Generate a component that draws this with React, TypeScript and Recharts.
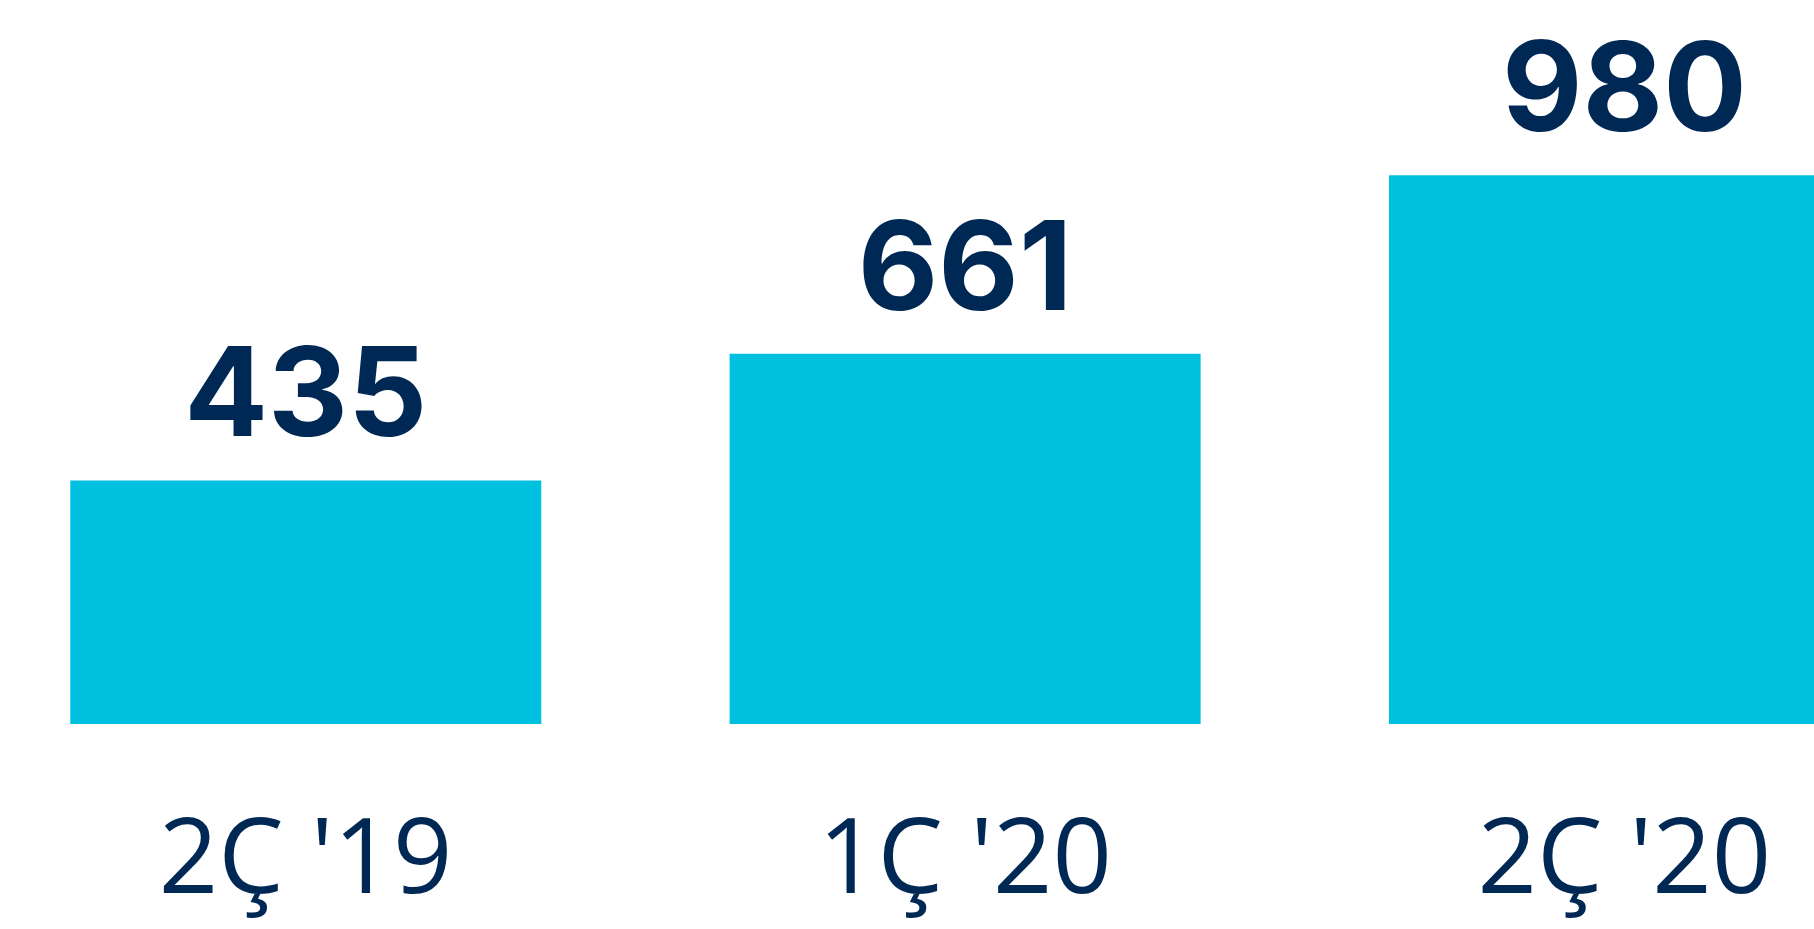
import React from 'react';
import { BarChart, Bar, XAxis, YAxis, LabelList } from 'recharts';

// Quarterly values
const categories = ["2Ç '19", "1Ç '20", "2Ç '20"];
const values = [435, 661, 980];

const data = categories.map((q, i) => ({ q, value: values[i] }));

const NAVY = '#002855';
const CYAN = '#00C0E0';
const FONT = '"Open Sans", "Noto Sans", sans-serif';
const VALUE_FONT = 'Inter, "Open Sans", sans-serif';

const CategoryTick = (props: any) => {
  const { x, y, payload } = props;
  return (
    <text
      x={x}
      y={y}
      dy={163}
      textAnchor="middle"
      fill={NAVY}
      fontFamily={FONT}
      fontSize={104}
      fontWeight={500}
    >
      {payload.value}
    </text>
  );
};

export default function App() {
  return (
    <div
      style={{
        position: 'fixed',
        left: 0,
        top: 0,
        width: 1814,
        height: 929,
        overflow: 'hidden',
        background: '#fff',
      }}
    >
      <div style={{ marginLeft: -24 }}>
        <BarChart
          width={1978}
          height={929}
          data={data}
          barCategoryGap="14.3%"
          margin={{ top: 52, right: 0, left: 0, bottom: 55 }}
        >
          <XAxis
            dataKey="q"
            axisLine={false}
            tickLine={false}
            tickMargin={0}
            height={150}
            interval={0}
            tick={<CategoryTick />}
          />
          <YAxis hide domain={[0, 1200]} />
          <Bar dataKey="value" fill={CYAN} isAnimationActive={false}>
            <LabelList
              dataKey="value"
              position="top"
              offset={44}
              fill={NAVY}
              fontFamily={VALUE_FONT}
              fontSize={124}
              fontWeight={700}
            />
          </Bar>
        </BarChart>
      </div>
    </div>
  );
}
